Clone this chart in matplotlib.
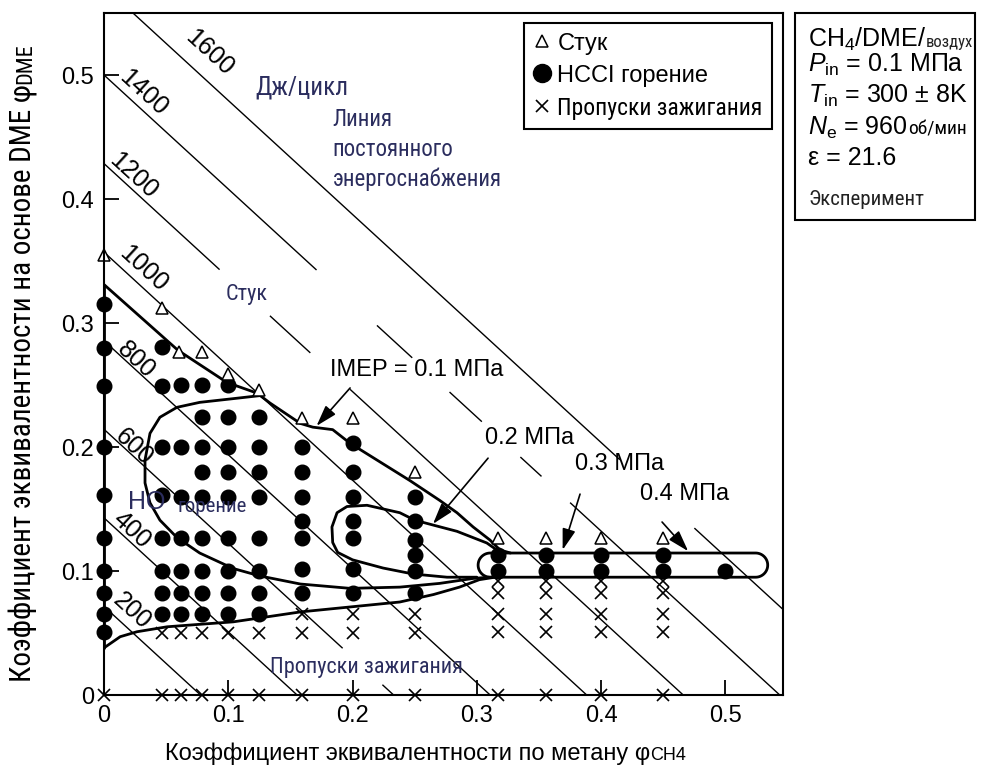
import numpy as np
import matplotlib
matplotlib.use("Agg")
import matplotlib.pyplot as plt
from matplotlib import font_manager
from matplotlib.lines import Line2D
from matplotlib.patches import Rectangle

# --- шрифты ---------------------------------------------------------------
names = {f.name for f in font_manager.fontManager.ttflist}

def pick(*cands):
    for c in cands:
        if c in names:
            return c
    return "DejaVu Sans"

SANS = pick("Liberation Sans", "Arial", "DejaVu Sans")
NARROW = pick("Roboto Condensed", "Liberation Sans Narrow", "Open Sans Condensed", "DejaVu Sans")
INK = "#2b2d5e"

plt.rcParams["font.family"] = [SANS, "DejaVu Sans"]
plt.rcParams["mathtext.fontset"] = "custom"
plt.rcParams["mathtext.rm"] = SANS
plt.rcParams["mathtext.it"] = SANS + ":italic"

# --- данные ---------------------------------------------------------------
# линии постоянного энергоснабжения: E = A_CH4*phi_CH4 + A_DME*phi_DME
A_CH4 = 2575.0
A_DME = 2800.0
energy_levels = [200, 400, 600, 800, 1000, 1200, 1400, 1600]

# стук
knock_x = [0, 0.047, 0.06, 0.079, 0.1, 0.125, 0.159, 0.2, 0.25, 0.317, 0.356, 0.4, 0.45]
knock_y = [0.355, 0.312, 0.277, 0.277, 0.259, 0.246, 0.223, 0.223, 0.18, 0.127, 0.127, 0.127, 0.127]

# HCCI горение (по столбцам phi_CH4)
hcci = {
    0.0:   [0.051, 0.065, 0.082, 0.1, 0.127, 0.161, 0.2, 0.249, 0.28, 0.315],
    0.047: [0.065, 0.082, 0.1, 0.127, 0.161, 0.2, 0.249, 0.281],
    0.062: [0.065, 0.082, 0.1, 0.127, 0.16, 0.2, 0.25],
    0.079: [0.065, 0.082, 0.1, 0.127, 0.16, 0.18, 0.2, 0.224, 0.25],
    0.1:   [0.065, 0.082, 0.1, 0.127, 0.16, 0.18, 0.2, 0.224, 0.25],
    0.125: [0.065, 0.082, 0.1, 0.127, 0.16, 0.18, 0.2, 0.224],
    0.159: [0.082, 0.102, 0.127, 0.14, 0.16, 0.18, 0.2],
    0.2:   [0.082, 0.102, 0.127, 0.14, 0.16, 0.18, 0.203],
    0.25:  [0.082, 0.1, 0.113, 0.125, 0.14, 0.16],
    0.317: [0.1, 0.113],
    0.356: [0.1, 0.113],
    0.4:   [0.1, 0.113],
    0.45:  [0.1, 0.113],
    0.5:   [0.1],
}

# пропуски зажигания
misfire = {
    0.0:   [0],
    0.047: [0.05, 0],
    0.062: [0.05, 0],
    0.079: [0.05, 0],
    0.1:   [0.05, 0],
    0.125: [0.05, 0],
    0.159: [0.065, 0.05, 0],
    0.2:   [0.065, 0.05, 0],
    0.25:  [0.065, 0.05, 0],
    0.317: [0.092, 0.082, 0.065, 0.051, 0],
    0.356: [0.092, 0.082, 0.065, 0.051, 0],
    0.4:   [0.092, 0.082, 0.065, 0.051, 0],
    0.45:  [0.092, 0.082, 0.065, 0.051, 0],
}

# границы областей IMEP
upper_x = [0, 0.0595, 0.099, 0.123, 0.1335, 0.158, 0.168, 0.184, 0.198, 0.246, 0.27, 0.284, 0.297, 0.3105, 0.3186, 0.327]
upper_y = [0.331, 0.278, 0.252, 0.2435, 0.2355, 0.219, 0.216, 0.214, 0.203, 0.173, 0.157, 0.147, 0.1355, 0.125, 0.117, 0.1145]

lower_x = [0, 0.013, 0.0265, 0.0507, 0.077, 0.104, 0.131, 0.158, 0.198, 0.238, 0.265, 0.286, 0.302, 0.3146]
lower_y = [0.038, 0.047, 0.051, 0.055, 0.057, 0.059, 0.063, 0.067, 0.071, 0.075, 0.081, 0.087, 0.093, 0.095]

loop_x = [0.126, 0.104, 0.077, 0.0587, 0.045, 0.037, 0.033, 0.033, 0.037, 0.045, 0.0587, 0.077, 0.104, 0.1255, 0.158, 0.198, 0.238, 0.27, 0.297, 0.31]
loop_y = [0.2415, 0.239, 0.236, 0.232, 0.224, 0.211, 0.1895, 0.171, 0.155, 0.141, 0.127, 0.1145, 0.102, 0.096, 0.0895, 0.086, 0.087, 0.09, 0.094, 0.095]

small_x = [0.316, 0.308, 0.284, 0.265, 0.25, 0.238, 0.2116, 0.1955, 0.1875, 0.1834, 0.184, 0.188, 0.2, 0.2245, 0.2486, 0.276, 0.3]
small_y = [0.117, 0.1226, 0.132, 0.137, 0.141, 0.147, 0.153, 0.152, 0.147, 0.1355, 0.123, 0.115, 0.109, 0.1024, 0.0976, 0.095, 0.095]

PILL_X = (0.301, 0.534)
PILL_Y = (0.095, 0.1145)

# --- фигура ---------------------------------------------------------------
W, H = 981, 767
fig = plt.figure(figsize=(W / 100, H / 100), dpi=100)
ax = fig.add_axes([104 / W, 1 - 695 / H, 679 / W, 682 / H])
XMAX, YMAX = 0.5463, 0.55
ax.set_xlim(0, XMAX)
ax.set_ylim(0, YMAX)

ticks = [0, 0.1, 0.2, 0.3, 0.4, 0.5]
labels = ["0", "0.1", "0.2", "0.3", "0.4", "0.5"]
ax.set_xticks(ticks, labels)
ax.set_yticks(ticks, labels)
ax.tick_params(direction="in", length=11, width=1.3, labelsize=17, pad=7, colors="black")
ax.xaxis.get_major_ticks()[0].tick1line.set_visible(False)
ax.yaxis.get_major_ticks()[0].tick1line.set_visible(False)
for sp in ax.spines.values():
    sp.set_linewidth(1.5)


def energy_y(E, x):
    return (E - A_CH4 * x) / A_DME


# разрывы линий под подписями и штриховые участки
line_gaps = {
    600: [(0.192, 0.224)],
    1200: [(0.093, 0.1335), (0.166, 0.198)],
    1400: [(0.171, 0.2196), (0.248, 0.278), (0.304, 0.335), (0.352, 0.375)],
    1600: [(0.415, 0.475)],
}
for E in energy_levels:
    x0 = max(0.0, (E - A_DME * YMAX) / A_CH4)
    x1 = min(XMAX, E / A_CH4)
    start = x0
    pieces = []
    for g0, g1 in line_gaps.get(E, []):
        pieces.append((start, g0))
        start = g1
    pieces.append((start, x1))
    for a, b in pieces:
        xs = np.array([a, b])
        ax.plot(xs, energy_y(E, xs), color="black", lw=1.0, solid_capstyle="butt")

# подписи энергий
label_xy = {200: (0.0225, 0.068), 400: (0.0225, 0.133), 600: (0.024, 0.2), 800: (0.0257, 0.27),
            1000: (0.0314, 0.344), 1200: (0.0233, 0.419), 1400: (0.0314, 0.486), 1600: (0.085, 0.518)}
p0 = ax.transData.transform((0, energy_y(1000, 0)))
p1 = ax.transData.transform((0.3, energy_y(1000, 0.3)))
angle = np.degrees(np.arctan2(p1[1] - p0[1], p1[0] - p0[0]))
for E, (lx, ly) in label_xy.items():
    ax.text(lx, ly, str(E), fontsize=18, rotation=angle, rotation_mode="anchor",
            ha="center", va="center")

# кривые
kw = dict(color="black", lw=2.0, solid_joinstyle="round", solid_capstyle="round")
ax.plot(upper_x, upper_y, **kw)
ax.plot(lower_x, lower_y, **kw)
ax.plot(loop_x, loop_y, **kw)
ax.plot(small_x, small_y, **kw)
ax.plot([0, 0], [lower_y[0], upper_y[0]], clip_on=False, **kw)

r = (PILL_Y[1] - PILL_Y[0]) / 2
cy = (PILL_Y[0] + PILL_Y[1]) / 2
t = np.linspace(-np.pi / 2, np.pi / 2, 40)
px = np.concatenate([[PILL_X[0] + r], PILL_X[1] - r + r * np.cos(t),
                     PILL_X[0] + r - r * np.cos(t), [PILL_X[0] + r]])
py = np.concatenate([[PILL_Y[0]], cy + r * np.sin(t), cy - r * np.sin(t), [PILL_Y[0]]])
ax.plot(px, py, **kw)

# точки
for x, ys in misfire.items():
    ax.plot([x] * len(ys), ys, ls="none", marker="x", ms=8, mew=1.2, color="black", clip_on=False)
for x, ys in hcci.items():
    ax.plot([x] * len(ys), ys, ls="none", marker="o", ms=10.5, color="black", clip_on=False)
ax.plot(knock_x, knock_y, ls="none", marker="^", ms=9, mew=1.1, mfc="white", mec="black", clip_on=False)

# стрелки и подписи IMEP
arrow = dict(arrowstyle="-|>,head_length=0.8,head_width=0.25", color="black", lw=1.2,
             shrinkA=0, shrinkB=0, mutation_scale=16)
imep = [("IMEP = 0.1 МПа", (0.182, 0.262), (0.198, 0.2476), (0.171, 0.217)),
        ("0.2 МПа", (0.3065, 0.207), (0.309, 0.191), (0.2647, 0.138)),
        ("0.3 МПа", (0.379, 0.186), (0.383, 0.162), (0.369, 0.117)),
        ("0.4 МПа", (0.431, 0.162), (0.449, 0.1395), (0.47, 0.116))]
for s, (tx, ty), tail, tip in imep:
    ax.text(tx, ty, s, fontsize=17, ha="left", va="center")
    ax.annotate("", xy=tip, xytext=tail, arrowprops=arrow)

# надписи областей
nar = dict(family=[NARROW, "DejaVu Sans"], color=INK, va="center", ha="left")
ax.text(0.1215, 0.49, "Дж/цикл", fontsize=18, **nar)
ax.text(0.184, 0.4645, "Линия", fontsize=16.5, **nar)
ax.text(0.184, 0.440, "постоянного", fontsize=16.5, **nar)
ax.text(0.184, 0.416, "энергоснабжения", fontsize=16.5, **nar)
ax.text(0.098, 0.323, "Стук", fontsize=16, **nar)
ax.text(0.0595, 0.152, "горение", fontsize=15, **nar)
ax.text(0.1335, 0.0218, "Пропуски зажигания", fontsize=16, **nar)
ax.text(0.019, 0.156, "НО", fontsize=18, color=INK, va="center", ha="left")

# легенда
handles = [Line2D([], [], ls="none", marker="^", mfc="white", mec="black", ms=9, mew=1.1),
           Line2D([], [], ls="none", marker="o", color="black", ms=13),
           Line2D([], [], ls="none", marker="x", color="black", ms=9, mew=1.2)]
leg = ax.legend(handles, ["Стук", "HCCI горение", "Пропуски зажигания"], loc="upper left",
                bbox_to_anchor=(0.619, 0.985), fontsize=17, fancybox=False, edgecolor="black",
                framealpha=1, handlelength=0.7, handletextpad=0.3, labelspacing=0.42,
                borderpad=0.4, borderaxespad=0)
leg.get_frame().set_linewidth(1.5)
leg.get_texts()[2].set_fontfamily([NARROW, "DejaVu Sans"])
leg.get_texts()[2].set_fontsize(17)

# --- текст из нескольких фрагментов ----------------------------------------
renderer = fig.canvas.get_renderer()


def put_runs(x_px, base_px, runs):
    x = x_px
    for s, kw in runs:
        t = fig.text(x / W, 1 - base_px / H, s, ha="left", va="baseline", **kw)
        x = t.get_window_extent(renderer).x1
    return x


# блок условий эксперимента
fig.add_artist(Rectangle((795 / W, 1 - 220 / H), 180 / W, 207 / H, transform=fig.transFigure,
                         fill=False, lw=1.5, ec="black"))
big = dict(fontsize=18)
small_n = dict(fontsize=12, family=[NARROW, "DejaVu Sans"], color="#222222")
put_runs(808, 47, [("CH$_4$/DME/", big), ("воздух", small_n)])
put_runs(808, 72, [("$P_{\\rm in}$ = 0.1 МПа", big)])
put_runs(808, 103, [("$T_{\\rm in}$ = 300 ± 8K", big)])
put_runs(808, 135, [("$N_{\\rm e}$ = 960", big), ("об/мин", dict(fontsize=14, family=[NARROW, "DejaVu Sans"]))])
put_runs(808, 165, [("ε = 21.6", big)])
put_runs(808, 205, [("Эксперимент", dict(fontsize=15, family=[NARROW, "DejaVu Sans"], color="#222222"))])

# подписи осей
put_runs(165, 760, [("Коэффициент эквивалентности по метану φ", dict(fontsize=17)),
                    ("CH4", dict(fontsize=13))])

yl = fig.text(31 / W, 1 - 682 / H, "Коэффициент эквивалентности на основе DME φ",
              rotation=90, rotation_mode="anchor", ha="left", va="baseline",
              fontsize=21, family=[NARROW, "DejaVu Sans"])
ext = yl.get_window_extent(renderer)
fig.text(31 / W, ext.y1 / H, "DME", rotation=90, rotation_mode="anchor", ha="left",
         va="baseline", fontsize=16, family=[NARROW, "DejaVu Sans"])

fig.savefig("out.png", dpi=100)
